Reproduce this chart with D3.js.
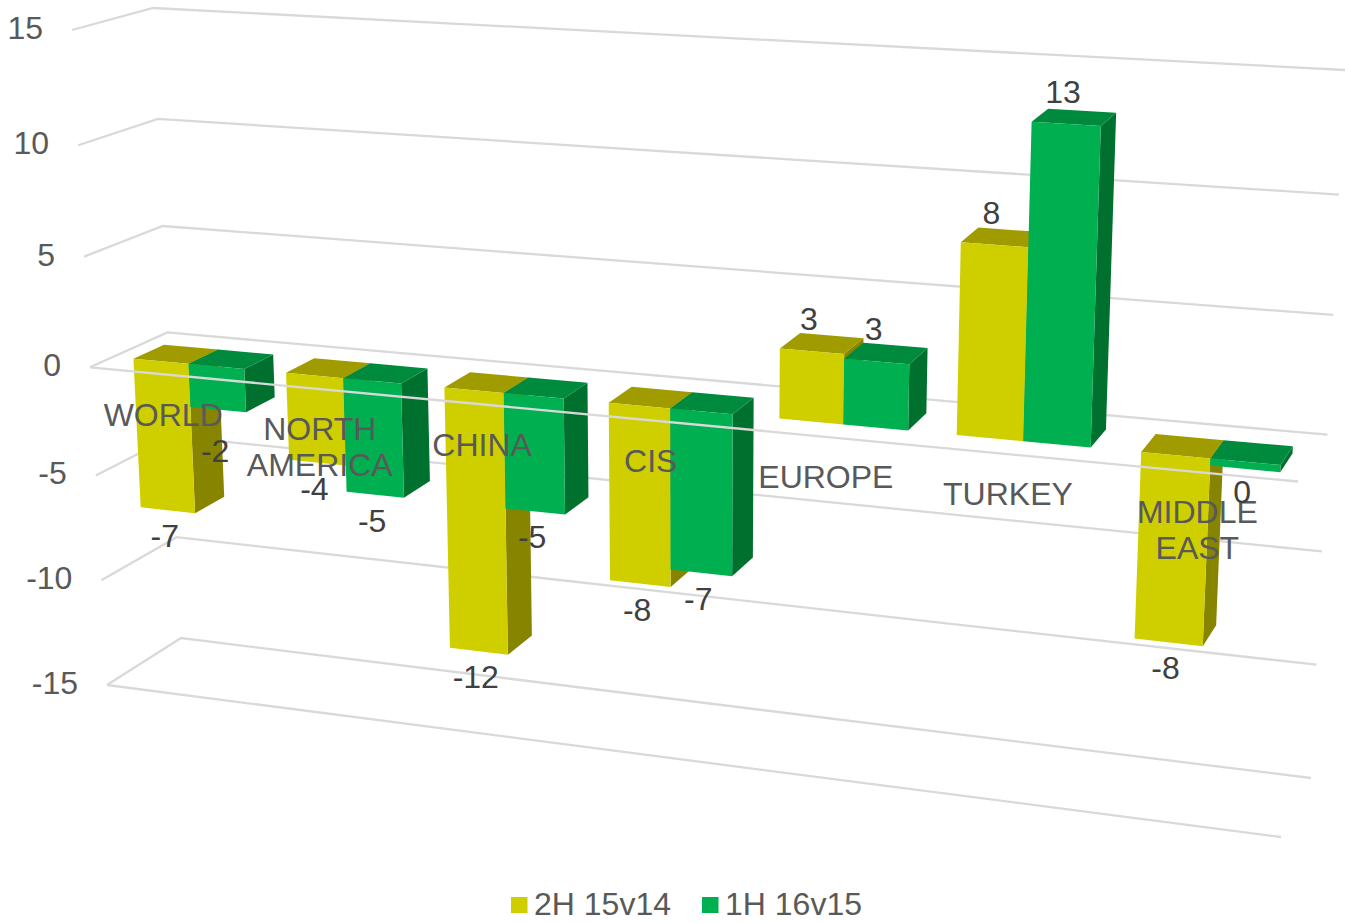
<!DOCTYPE html>
<html>
<head>
<meta charset="utf-8">
<script src="https://cdnjs.cloudflare.com/ajax/libs/d3/7.8.5/d3.min.js"></script>
<style>
html,body{margin:0;padding:0;background:#fff;}
svg{display:block;}
text{font-family:"Liberation Sans",Arial,sans-serif;font-size:32px;}
</style>
</head>
<body>
<svg id="chart" width="1345" height="923"></svg>
<script>
// ---- data ----
const categories = ["WORLD", "NORTH AMERICA", "CHINA", "CIS", "EUROPE", "TURKEY", "MIDDLE EAST"];
const seriesNames = ["2H 15v14", "1H 16v15"];
const series1 = [-7.0, -4.0, -12.0, -8.0, 3.0, 8.1, -8.0];
const series2 = [-2.0, -5.2, -5.2, -7.2, 2.8, 13.2, -0.3];
const tickValues = [15, 10, 5, 0, -5, -10, -15];

// ---- layout ----
const frontFaces = ["#CFCF00", "#00B050"];
const topFaces = ["#A09C00", "#008A3E"];
const sideFaces = ["#878500", "#00702F"];
const gridColor = "#D9D9D9";

const svg = d3.select("#chart");

// the box of the 3D plot as seen on the page: [left, right] by [front, back] by [bottom, top]
const box = {
  fl: {b: [107, 685], t: [72, 30]},
  bl: {b: [181, 638], t: [153, 8]},
  fr: {b: [1281, 837], t: [1316, 104]},
  br: {b: [1311, 778], t: [1345, 70]}
};
const valueT = d3.scaleLinear()
  .domain([-15, -10, -5, 0, 5, 10, 15])
  .range([0, 0.16, 0.32, 0.485, 0.654, 0.824, 1]);
const lerp = (a, b, t) => [a[0] + (b[0] - a[0]) * t, a[1] + (b[1] - a[1]) * t];
// perspective foreshortening across the width
const warp = u => { const r = 0.875; return u * r / (u * r + (1 - u)); };
function project(u, v, d) {
  const t = valueT(v), w = warp(u);
  const f = lerp(lerp(box.fl.b, box.fl.t, t), lerp(box.fr.b, box.fr.t, t), w);
  const b = lerp(lerp(box.bl.b, box.bl.t, t), lerp(box.br.b, box.br.t, t), w);
  return lerp(f, b, d);
}

const xBand = d3.scaleBand().domain(categories).range([0, 1]).paddingInner(0.27).paddingOuter(0.135);
const xSeries = d3.scaleBand().domain([0, 1]).range([0, xBand.bandwidth()]);
const barFront = 0.3, barBack = 0.7;

const line = d3.line();
const gGrid = svg.append("g").attr("fill", "none").attr("stroke", gridColor).attr("stroke-width", 2.3);

// walls
tickValues.forEach(v => {
  gGrid.append("path").attr("d", line([project(0, v, 0), project(0, v, 1), project(1, v, 1)]));
});
// floor front edge
gGrid.append("path").attr("d", line([project(0, -15, 0), project(1, -15, 0)]));

// tick labels
svg.append("g").selectAll("text").data(tickValues).join("text")
  .attr("x", v => project(0, v, 0)[0] - 29)
  .attr("y", v => project(0, v, 0)[1] + 9)
  .attr("text-anchor", "end")
  .attr("fill", "#595959")
  .text(d => d);

// bars
const bars = [];
categories.forEach((c, i) => {
  [series1[i], series2[i]].forEach((val, s) => {
    const u0 = xBand(c) + xSeries(s), u1 = u0 + xSeries.bandwidth();
    bars.push({c, i, s, val, u0, u1});
  });
});
const gBars = svg.append("g");
bars.forEach(b => {
  const hi = Math.max(b.val, 0), lo = Math.min(b.val, 0);
  const g = gBars.append("g");
  g.append("path").attr("fill", sideFaces[b.s]).attr("d", line([
    project(b.u1, hi, barFront), project(b.u1, hi, barBack),
    project(b.u1, lo, barBack), project(b.u1, lo, barFront)]) + "Z");
  g.append("path").attr("fill", topFaces[b.s]).attr("d", line([
    project(b.u0, hi, barFront), project(b.u0, hi, barBack),
    project(b.u1, hi, barBack), project(b.u1, hi, barFront)]) + "Z");
  g.append("path").attr("fill", frontFaces[b.s]).attr("d", line([
    project(b.u0, hi, barFront), project(b.u1, hi, barFront),
    project(b.u1, lo, barFront), project(b.u0, lo, barFront)]) + "Z");
});

// zero line sits in front of the bars
svg.append("path").attr("fill", "none").attr("stroke", gridColor).attr("stroke-width", 2.3)
  .attr("d", line([project(0, 0, 0), project(1, 0, 0)]));

// category labels
const gCat = svg.append("g").attr("fill", "#595959").attr("text-anchor", "middle");
categories.forEach(c => {
  const p = project(xBand(c) + xBand.bandwidth() / 2, 0, 0);
  const t = gCat.append("text");
  c.split(" ").forEach((w, k) => {
    t.append("tspan").attr("x", p[0] - 3).attr("y", p[1] + 51 + k * 36).text(w);
  });
});

// data labels
const labelGap = b => b.val >= 0 ? -21 : 37;
const extraGap = {"WORLD|1": 15, "MIDDLE EAST|1": -3};
svg.append("g").attr("fill", "#404040").attr("text-anchor", "middle")
  .selectAll("text").data(bars).join("text")
  .attr("x", b => project((b.u0 + b.u1) / 2, b.val, barFront)[0] - 3)
  .attr("y", b => project((b.u0 + b.u1) / 2, b.val, barFront)[1] + labelGap(b) + (extraGap[b.c + "|" + b.s] || 0))
  .text(b => String(Math.round(b.val)));

// legend
const legend = svg.append("g");
const legendX = d3.scaleOrdinal().domain(seriesNames).range([511, 702]);
seriesNames.forEach((n, i) => {
  legend.append("rect").attr("x", legendX(n)).attr("y", 897).attr("width", 16.5).attr("height", 16).attr("fill", frontFaces[i]);
  legend.append("text").attr("x", legendX(n) + 23).attr("y", 915).attr("fill", "#595959").text(n);
});
</script>
</body>
</html>
